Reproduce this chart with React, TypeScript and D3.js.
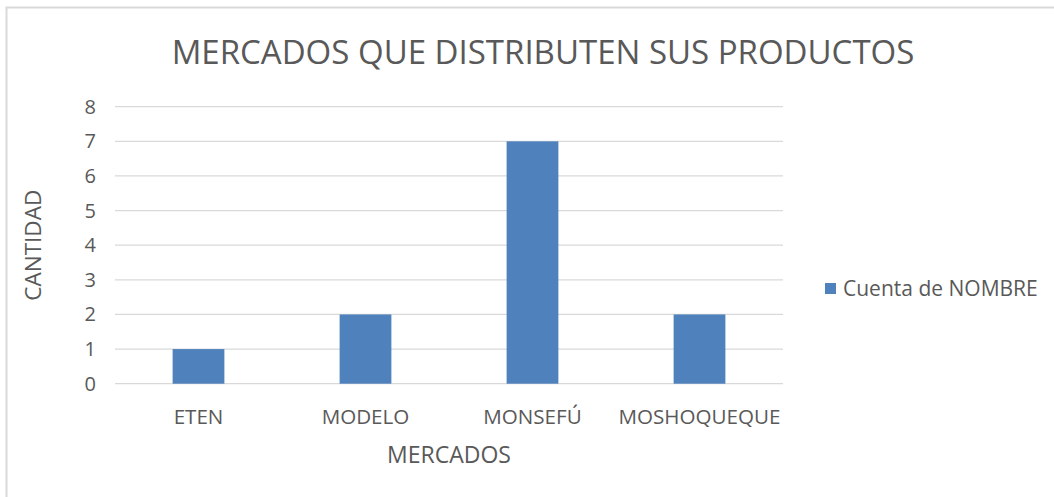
import React, { useRef, useEffect } from "react";
import * as d3 from "d3";

const categories = ["ETEN", "MODELO", "MONSEFÚ", "MOSHOQUEQUE"];
const values = [1, 2, 7, 2];
const yTicks = [0, 1, 2, 3, 4, 5, 6, 7, 8];
const seriesName = "Cuenta de NOMBRE";
const title = "MERCADOS QUE DISTRIBUTEN SUS PRODUCTOS";
const xTitle = "MERCADOS";
const yTitle = "CANTIDAD";

export default function App() {
  const svgRef = useRef<SVGSVGElement>(null);

  useEffect(() => {
    const width = 1054;
    const height = 497;
    const font = "'Open Sans', sans-serif";
    const textColor = "#595959";
    const barColor = "#4F81BD";

    const svg = d3.select(svgRef.current);
    svg.selectAll("*").remove();
    svg.attr("width", width).attr("height", height);

    // marco del gráfico
    svg
      .append("rect")
      .attr("x", 6.5)
      .attr("y", 7.5)
      .attr("width", 1060)
      .attr("height", 500)
      .attr("fill", "#fff")
      .attr("stroke", "#d9d9d9")
      .attr("stroke-width", 2);

    const left = 115;
    const right = 783;
    const top = 106.7;
    const bottom = 383.7;

    const x = d3
      .scaleBand()
      .domain(categories)
      .range([left, right])
      .paddingInner(0.69)
      .paddingOuter(0.345);
    const y = d3.scaleLinear().domain([0, 8]).range([bottom, top]);

    // líneas de cuadrícula
    svg
      .append("g")
      .selectAll("line")
      .data(yTicks)
      .enter()
      .append("line")
      .attr("x1", left)
      .attr("x2", right)
      .attr("y1", (d) => y(d))
      .attr("y2", (d) => y(d))
      .attr("stroke", "#d9d9d9")
      .attr("stroke-width", 1.3);

    // etiquetas eje y
    svg
      .append("g")
      .selectAll("text")
      .data(yTicks)
      .enter()
      .append("text")
      .attr("x", 96)
      .attr("y", (d) => y(d) + 7)
      .attr("text-anchor", "end")
      .attr("font-family", font)
      .attr("font-size", 20)
      .attr("fill", textColor)
      .text((d) => d);

    // barras
    svg
      .append("g")
      .selectAll("rect")
      .data(values)
      .enter()
      .append("rect")
      .attr("x", (d, i) => x(categories[i])!)
      .attr("y", (d) => y(d))
      .attr("width", x.bandwidth())
      .attr("height", (d) => y(0) - y(d))
      .attr("fill", barColor);

    // etiquetas eje x
    svg
      .append("g")
      .selectAll("text")
      .data(categories)
      .enter()
      .append("text")
      .attr("x", (d) => x(d)! + x.bandwidth() / 2)
      .attr("y", 424)
      .attr("text-anchor", "middle")
      .attr("font-family", font)
      .attr("font-size", 20.6)
      .attr("fill", textColor)
      .text((d) => d);

    // títulos de ejes
    svg
      .append("text")
      .attr("x", (left + right) / 2)
      .attr("y", 463)
      .attr("text-anchor", "middle")
      .attr("font-family", font)
      .attr("font-size", 23)
      .attr("fill", textColor)
      .text(xTitle);

    svg
      .append("text")
      .attr("transform", `translate(41, ${(top + bottom) / 2}) rotate(-90)`)
      .attr("text-anchor", "middle")
      .attr("font-family", font)
      .attr("font-size", 22.5)
      .attr("fill", textColor)
      .text(yTitle);

    // título principal
    svg
      .append("text")
      .attr("x", 543)
      .attr("y", 64)
      .attr("text-anchor", "middle")
      .attr("font-family", font)
      .attr("font-size", 33)
      .attr("fill", textColor)
      .text(title);

    // leyenda
    svg
      .append("rect")
      .attr("x", 825)
      .attr("y", 283)
      .attr("width", 11)
      .attr("height", 11)
      .attr("fill", barColor);
    svg
      .append("text")
      .attr("x", 843)
      .attr("y", 296)
      .attr("font-family", font)
      .attr("font-size", 21)
      .attr("fill", textColor)
      .text(seriesName);
  }, []);

  return <svg ref={svgRef} style={{ position: "absolute", left: 0, top: 0 }}></svg>;
}
